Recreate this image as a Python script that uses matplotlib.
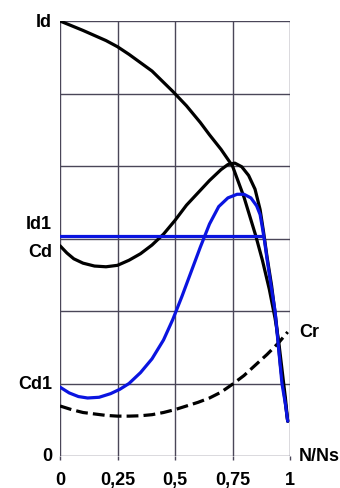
"""Torque / current vs speed curves of an induction motor (Id, Cd, Cd1, Cr)."""

import matplotlib

matplotlib.use("Agg", force=True)

import matplotlib.pyplot as plt

# values, y in grid units (6 cells high)
speed_id = [0.0, 0.1, 0.2, 0.25, 0.3, 0.4, 0.49, 0.55, 0.61, 0.65, 0.7, 0.75,
            0.8, 0.85, 0.88, 0.91, 0.935, 0.95, 0.965, 0.98, 0.99]
current_id = [6.0, 5.87, 5.73, 5.645, 5.54, 5.31, 5.03, 4.83, 4.6, 4.43, 4.23, 4.0,
              3.57, 3.05, 2.7, 2.3, 1.9, 1.6, 1.2, 0.8, 0.48]

speed_cd = [0.0, 0.03, 0.06, 0.1, 0.15, 0.2, 0.25, 0.3, 0.35, 0.4, 0.45, 0.5, 0.55,
            0.6, 0.65, 0.7, 0.73, 0.76, 0.79, 0.82, 0.848, 0.87, 0.885, 0.9, 0.92,
            0.94, 0.96, 0.975, 0.99]
torque_cd = [2.9, 2.8, 2.72, 2.66, 2.62, 2.61, 2.63, 2.7, 2.79, 2.91, 3.06, 3.25, 3.46,
             3.63, 3.8, 3.95, 4.02, 4.04, 3.99, 3.87, 3.68, 3.4, 3.09, 2.75, 2.35,
             1.85, 1.2, 0.85, 0.48]

speed_cd1 = [0.0, 0.04, 0.08, 0.12, 0.17, 0.22, 0.26, 0.3, 0.35, 0.4, 0.45, 0.49, 0.53,
             0.57, 0.61, 0.65, 0.69, 0.73, 0.77, 0.8, 0.83, 0.855, 0.87, 0.88, 0.89,
             0.9, 0.915, 0.935, 0.95, 0.965, 0.98, 0.99]
torque_cd1 = [0.95, 0.87, 0.82, 0.8, 0.81, 0.86, 0.92, 1.0, 1.15, 1.34, 1.6, 1.88, 2.2,
              2.54, 2.88, 3.2, 3.44, 3.56, 3.61, 3.61, 3.56, 3.45, 3.33, 3.15, 2.95,
              2.72, 2.4, 2.0, 1.5, 1.0, 0.72, 0.48]

speed_cr = [0.0, 0.05, 0.1, 0.15, 0.2, 0.25, 0.3, 0.35, 0.4, 0.45, 0.5, 0.55, 0.6,
            0.65, 0.7, 0.75, 0.8, 0.855, 0.9, 0.95, 0.99]
torque_cr = [0.69, 0.64, 0.6, 0.58, 0.56, 0.55, 0.55, 0.555, 0.57, 0.6, 0.64, 0.69, 0.74,
             0.8, 0.88, 0.99, 1.11, 1.27, 1.4, 1.56, 1.71]

id1_level = 3.03
id1_end = 0.88

x_ticks = [0.0, 0.25, 0.5, 0.75, 1.0]
x_tick_labels = ["0", "0,25", "0,5", "0,75", "1"]
y_labels = [("Id", 6.0), ("Id1", 3.2), ("Cd", 2.82), ("Cd1", 1.0), ("0", 0.0)]

BLUE = "#0a14e0"
GRID = "#4a4658"
FONT = {"family": "Liberation Sans", "fontweight": "bold", "fontsize": 13}

fig = plt.figure(figsize=(3.4, 4.89), dpi=100)
ax = fig.add_axes([60 / 340, 32 / 489, 230 / 340, 435 / 489])
ax.set_xlim(0, 1)
ax.set_ylim(0, 6)
for side in ax.spines.values():
	side.set_visible(False)

for xv in x_ticks:
	ax.axvline(xv, color=GRID, lw=1.0, zorder=1)
for yv in range(7):
	ax.axhline(yv, color=GRID, lw=1.0, zorder=1)

ax.plot(speed_id, current_id, color="black", lw=2.3, zorder=3, solid_capstyle="round")
ax.plot(speed_cd, torque_cd, color="black", lw=2.3, zorder=3, solid_capstyle="round")
ax.plot([0, id1_end], [id1_level, id1_level], color=BLUE, lw=2.3, zorder=4)
ax.plot(speed_cd1, torque_cd1, color=BLUE, lw=2.3, zorder=4, solid_capstyle="round")
ax.plot(speed_cr, torque_cr, color="black", lw=2.3, zorder=3, dashes=(3.7, 1.6))

ax.set_xticks(x_ticks)
ax.set_xticklabels(x_tick_labels, **FONT)
ax.tick_params(axis="x", direction="out", length=3, width=1, color=GRID, pad=8)
ax.set_yticks([])

for text, yv in y_labels:
	ax.text(-0.035, yv, text, ha="right", va="center", **FONT)
ax.text(1.04, 1.72, "Cr", ha="left", va="center", **FONT)
ax.text(1.04, 0.0, "N/Ns", ha="left", va="center", clip_on=False, **FONT)

fig.savefig("out.png", dpi=100)
plt.close(fig)
